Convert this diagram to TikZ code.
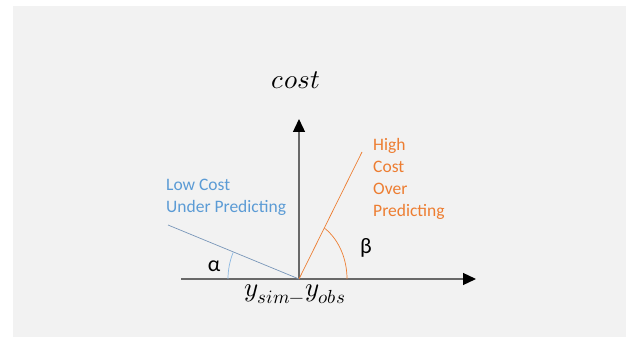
\documentclass[tikz,border=0pt]{standalone}
\usepackage{fontspec}
\setmainfont{Carlito}
\usepackage{unicode-math}
\setmathfont{Latin Modern Math}
\usetikzlibrary{arrows.meta,positioning}
\definecolor{PlotBg}{RGB}{242,242,242}
\definecolor{AxisGray}{RGB}{105,105,105}
\definecolor{UnderBlue}{RGB}{91,155,213}
\definecolor{UnderLine}{RGB}{120,150,185}
\definecolor{OverOrange}{RGB}{237,125,49}
\begin{document}
\begin{tikzpicture}[x=1pt, y=1pt,
  axis/.style={line width=1.3pt, AxisGray, -{Triangle[length=13pt, width=12pt, color=black]}},
  ray/.style={line width=0.7pt},
  angarc/.style={line width=0.7pt},
  caption/.style={font=\fontsize{17.5}{22}\selectfont, align=left, inner sep=0pt},
  mathlabel/.style={font=\fontsize{27}{30}\selectfont, inner sep=0pt},
  greek/.style={font=\fontsize{22}{24}\selectfont, inner sep=0pt}
]
\useasboundingbox (0,0) rectangle (626,337);
\fill[white] (0,0) rectangle (626,337);
\fill[PlotBg] (13,-10) rectangle (640,331);

% axes and rays
\coordinate (O) at (299,58);
\coordinate (xL) at (181,58);
\coordinate (xR) at (476,58);
\coordinate (yT) at (299,218);
\coordinate (lowEnd) at (168,112);
\coordinate (highEnd) at (362,185);
\draw[axis] (xL) -- (xR);
\draw[axis] (O) -- (yT);
\draw[ray, UnderLine] (O) -- (lowEnd);
\draw[ray, OverOrange] (O) -- (highEnd);
\draw[angarc, UnderBlue!70] ([shift={(180:71)}]O) arc[start angle=180, end angle=158, radius=71];
\draw[angarc, OverOrange] ([shift={(0:48)}]O) arc[start angle=0, end angle=58, x radius=48, y radius=60];

% labels (base = last line)
\node[mathlabel, anchor=base] (costLbl) at (296,248.7) {$cost$};
\node[mathlabel, anchor=base] (diffLbl) at (295,40) {$y_{sim{-}}y_{obs}$};
\node[greek, anchor=base] (alphaLbl) at (214,65) {α};
\node[greek, anchor=base] (betaLbl) at (366,83) {β};
\node[caption, UnderBlue, anchor=base west] (lowLbl) at (166,124.3) {Low Cost\\Under Predicting};
\node[caption, OverOrange, anchor=base west] (highLbl) at (373,120.3) {High\\Cost\\Over\\Predicting};
\end{tikzpicture}
\end{document}
